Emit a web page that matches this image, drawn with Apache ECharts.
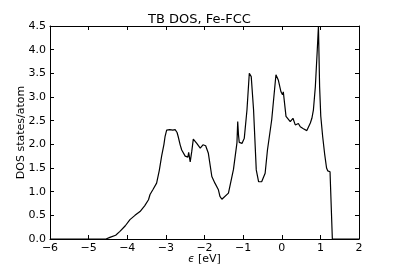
<!DOCTYPE html>
<html>
<head>
<meta charset="utf-8">
<script src="https://cdn.jsdelivr.net/npm/echarts@6/dist/echarts.min.js"></script>
<style>html,body{margin:0;padding:0;background:#fff;}#c{width:399px;height:266px;}</style>
</head>
<body>
<div id="c"></div>
<script>
const energies = [-6, -4.55, -4.53, -4.45, -4.3, -4.19, -4.05, -3.93, -3.8, -3.67, -3.55, -3.45, -3.41, -3.33, -3.24, -3.17, -3.11, -3.05, -3.02, -2.98, -2.9, -2.82, -2.76, -2.74, -2.71, -2.68, -2.63, -2.59, -2.5, -2.43, -2.41, -2.37, -2.33, -2.29, -2.25, -2.2, -2.11, -2.04, -1.97, -1.94, -1.9, -1.81, -1.73, -1.64, -1.6, -1.55, -1.5, -1.38, -1.25, -1.16, -1.14, -1.12, -1.1, -1.03, -0.97, -0.9, -0.84, -0.79, -0.73, -0.66, -0.6, -0.52, -0.43, -0.37, -0.26, -0.15, -0.09, -0.02, 0.02, 0.04, 0.11, 0.22, 0.29, 0.35, 0.43, 0.48, 0.56, 0.65, 0.74, 0.78, 0.82, 0.87, 0.92, 0.95, 0.98, 1.01, 1.06, 1.11, 1.16, 1.19, 1.25, 1.31, 2];
const dos = [0, 0, 0, 0.035, 0.08, 0.16, 0.28, 0.41, 0.5, 0.58, 0.7, 0.83, 0.94, 1.05, 1.18, 1.45, 1.75, 2.0, 2.17, 2.3, 2.31, 2.3, 2.31, 2.34, 2.25, 2.16, 1.99, 1.88, 1.75, 1.73, 1.83, 1.63, 1.85, 2.11, 2.08, 2.02, 1.92, 1.99, 1.97, 1.95, 1.81, 1.32, 1.18, 1.04, 0.9, 0.84, 0.86, 0.97, 1.47, 2.03, 2.48, 2.2, 2.04, 2.02, 2.13, 2.73, 3.5, 3.43, 2.73, 1.46, 1.21, 1.21, 1.39, 1.88, 2.52, 3.47, 3.36, 3.11, 3.05, 3.11, 2.59, 2.48, 2.55, 2.41, 2.44, 2.37, 2.33, 2.29, 2.45, 2.55, 2.73, 3.22, 4.0, 4.5, 3.22, 2.6, 2.16, 1.8, 1.5, 1.44, 1.42, 0, 0];
const xTicks = {min: -6, max: 2, step: 1};
const yTicks = {min: 0, max: 4.5, step: 0.5};

const font = 'DejaVu Sans';
const minus = v => String(v).replace('-', '\u2212');
const chart = echarts.init(document.getElementById('c'), null, {renderer: 'canvas'});
const baseX = {
  type: 'value', min: xTicks.min, max: xTicks.max, interval: xTicks.step,
  axisLine: {show: true, onZero: false, lineStyle: {color: '#000', width: 1}},
  axisTick: {show: true, inside: true, length: 4, lineStyle: {color: '#000'}},
  splitLine: {show: false}
};
const baseY = {
  type: 'value', min: yTicks.min, max: yTicks.max, interval: yTicks.step,
  axisLine: {show: true, onZero: false, lineStyle: {color: '#000', width: 1}},
  axisTick: {show: true, inside: true, length: 4, lineStyle: {color: '#000'}},
  splitLine: {show: false}
};
chart.setOption({
  animation: false,
  backgroundColor: '#fff',
  title: {
    text: 'TB DOS, Fe-FCC', left: 'center', top: 8,
    textStyle: {fontFamily: font, fontSize: 13, fontWeight: 'normal', color: '#000'}
  },
  grid: {left: 50, right: 40, top: 26, bottom: 27, outerBoundsMode: 'none', containLabel: false},
  xAxis: [
    Object.assign({}, baseX, {
      position: 'bottom',
      axisLabel: {fontFamily: font, fontSize: 11, color: '#000', margin: 4, formatter: minus},
      name: '{e|ϵ} [eV]', nameLocation: 'middle', nameGap: 15, nameMoveOverlap: false,
      nameTextStyle: {fontFamily: font, fontSize: 11, color: '#000',
        rich: {e: {fontFamily: font, fontSize: 10, fontStyle: 'italic', color: '#000'}}}
    }),
    Object.assign({}, baseX, {position: 'top', axisLabel: {show: false}})
  ],
  yAxis: [
    Object.assign({}, baseY, {
      position: 'left',
      axisLabel: {fontFamily: font, fontSize: 11, color: '#000', margin: 4, formatter: v => v.toFixed(1)},
      name: 'DOS states/atom', nameLocation: 'middle', nameGap: 23, nameMoveOverlap: false,
      nameTextStyle: {fontFamily: font, fontSize: 11, color: '#000'}
    }),
    Object.assign({}, baseY, {position: 'right', axisLabel: {show: false}})
  ],
  series: [{
    type: 'line', showSymbol: false, clip: true,
    data: energies.map((e, i) => [e, dos[i]]),
    lineStyle: {color: '#000', width: 1.2},
    itemStyle: {color: '#000'}
  }]
});
</script>
</body>
</html>
